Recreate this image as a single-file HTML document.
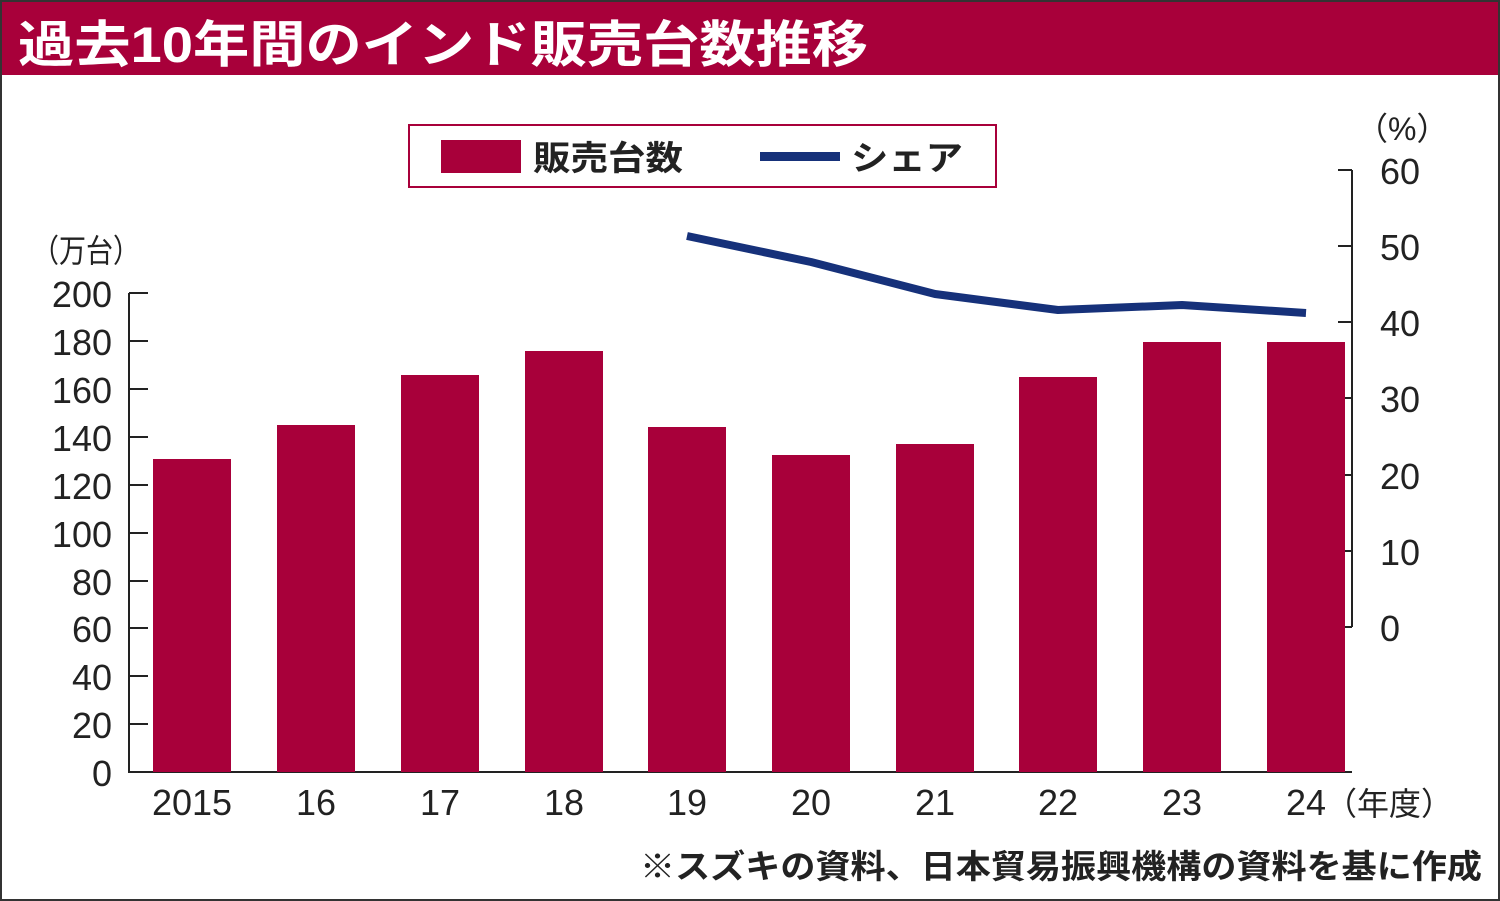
<!DOCTYPE html>
<html><head><meta charset="utf-8"><style>
html,body{margin:0;padding:0;background:#fff}
svg{display:block}
text{font-family:"Liberation Sans Narrow","Liberation Sans","Noto Sans CJK JP",sans-serif;fill:#222}
.j{font-family:"Liberation Sans","Noto Sans CJK JP",sans-serif;font-weight:bold}
</style></head><body>
<svg width="1500" height="901" viewBox="0 0 1500 901" xmlns="http://www.w3.org/2000/svg">
<rect x="1" y="1" width="1498" height="899" fill="#fff" stroke="#333" stroke-width="2"/>
<rect x="2" y="2" width="1496" height="73" fill="#a8003a"/>
<text x="18" y="62" class="j" font-size="50" style="fill:#fff" textLength="850" lengthAdjust="spacingAndGlyphs">過去10年間のインド販売台数推移</text>
<!-- legend -->
<rect x="409" y="125" width="587" height="62" fill="#fff" stroke="#a8003a" stroke-width="2"/>
<rect x="441" y="140" width="80" height="33" fill="#a8003a"/>
<text x="533" y="170" class="j" font-size="34" textLength="150" lengthAdjust="spacingAndGlyphs">販売台数</text>
<rect x="760" y="152" width="80" height="9" fill="#16317a"/>
<text x="851" y="170" class="j" font-size="34" textLength="112" lengthAdjust="spacingAndGlyphs">シェア</text>
<!-- left axis -->
<text x="32" y="262" class="j" font-size="32" style="font-weight:normal" textLength="108" lengthAdjust="spacingAndGlyphs">（万台）</text>
<g stroke="#222" stroke-width="2">
<line x1="129" y1="293" x2="129" y2="772"/>
<line x1="128" y1="772" x2="1352" y2="772"/>
<line x1="129" y1="293" x2="148" y2="293"/><line x1="129" y1="341" x2="148" y2="341"/><line x1="129" y1="389" x2="148" y2="389"/><line x1="129" y1="437" x2="148" y2="437"/><line x1="129" y1="485" x2="148" y2="485"/><line x1="129" y1="533" x2="148" y2="533"/><line x1="129" y1="581" x2="148" y2="581"/><line x1="129" y1="628" x2="148" y2="628"/><line x1="129" y1="676" x2="148" y2="676"/><line x1="129" y1="724" x2="148" y2="724"/>
<line x1="1352" y1="170" x2="1352" y2="627"/>
<line x1="1338" y1="170" x2="1352" y2="170"/><line x1="1338" y1="246" x2="1352" y2="246"/><line x1="1338" y1="322" x2="1352" y2="322"/><line x1="1338" y1="398" x2="1352" y2="398"/><line x1="1338" y1="475" x2="1352" y2="475"/><line x1="1338" y1="551" x2="1352" y2="551"/><line x1="1338" y1="627" x2="1352" y2="627"/>
</g>
<g font-size="36" text-anchor="end">
<text x="112" y="307">200</text><text x="112" y="355">180</text><text x="112" y="403">160</text><text x="112" y="451">140</text><text x="112" y="499">120</text><text x="112" y="547">100</text><text x="112" y="595">80</text><text x="112" y="642">60</text><text x="112" y="690">40</text><text x="112" y="738">20</text><text x="112" y="786">0</text>
</g>
<text x="1356" y="140" font-size="32" class="j" style="font-weight:normal">（%）</text>
<g font-size="36">
<text x="1380" y="184">60</text><text x="1380" y="260">50</text><text x="1380" y="336">40</text><text x="1380" y="412">30</text><text x="1380" y="489">20</text><text x="1380" y="565">10</text><text x="1380" y="641">0</text>
</g>
<!-- bars -->
<g fill="#a8003a">
<rect x="153" y="459" width="78" height="313"/>
<rect x="277" y="425" width="78" height="347"/>
<rect x="401" y="375" width="78" height="397"/>
<rect x="525" y="351" width="78" height="421"/>
<rect x="648" y="427" width="78" height="345"/>
<rect x="772" y="455" width="78" height="317"/>
<rect x="896" y="444" width="78" height="328"/>
<rect x="1019" y="377" width="78" height="395"/>
<rect x="1143" y="342" width="78" height="430"/>
<rect x="1267" y="342" width="78" height="430"/>
</g>
<polyline points="687,236 811,262 935,294 1058,310 1182,305 1306,313" fill="none" stroke="#16317a" stroke-width="8" stroke-linejoin="round"/>
<g font-size="36" text-anchor="middle">
<text x="192" y="815">2015</text><text x="316" y="815">16</text><text x="440" y="815">17</text><text x="564" y="815">18</text><text x="687" y="815">19</text><text x="811" y="815">20</text><text x="935" y="815">21</text><text x="1058" y="815">22</text><text x="1182" y="815">23</text><text x="1306" y="815">24</text>
</g>
<text x="1325" y="815" font-size="32" class="j" style="font-weight:normal">（年度）</text>
<text x="640" y="878" font-size="33" class="j" textLength="842" lengthAdjust="spacingAndGlyphs">※スズキの資料、日本貿易振興機構の資料を基に作成</text>
</svg>
</body></html>
